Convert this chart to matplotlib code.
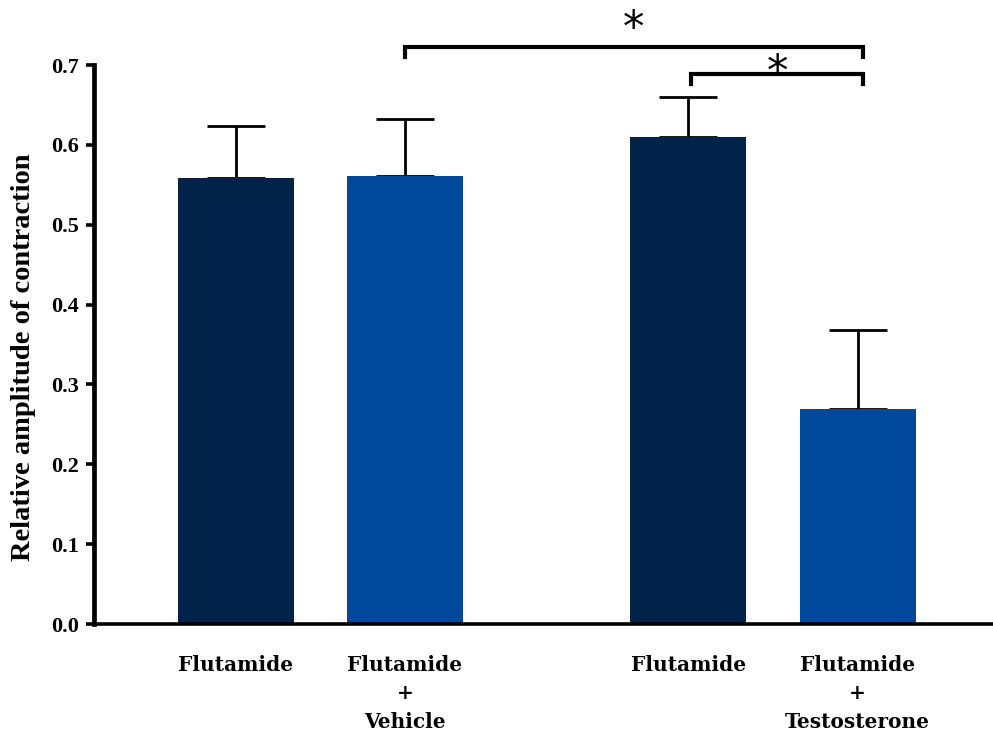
import numpy as np
import matplotlib
matplotlib.use("Agg")
import matplotlib.pyplot as plt

# group data: mean amplitude and upper SEM
labels = ["Flutamide", "Flutamide\n+\nVehicle", "Flutamide", "Flutamide\n+\nTestosterone"]
means = [0.558, 0.561, 0.610, 0.269]
errs = [0.066, 0.071, 0.050, 0.099]
colors = ["#012249", "#00489A", "#012249", "#00489A"]
xpos = [0.0, 1.0, 2.67, 3.67]

# significance brackets: (left x, right x, bracket height, star text y)
brackets = [(1.0, 3.70, 0.7225, 0.7183), (2.69, 3.70, 0.689, 0.6632)]

fig = plt.figure(figsize=(9.93, 7.35), dpi=100)
ax = fig.add_axes([0.0947, 0.151, 0.9053, 0.7605])

ax.bar(xpos, means, width=0.684, color=colors, zorder=2)
ax.errorbar(xpos, means, yerr=[np.zeros(len(errs)), errs], fmt="none",
            ecolor="black", elinewidth=2, capsize=21, capthick=2, zorder=1)

for x0, x1, h, ys in brackets:
    drop = 0.013
    ax.plot([x0, x0, x1, x1], [h - drop, h, h, h - drop], color="black",
            lw=3, clip_on=False, solid_joinstyle="miter")
    ax.text((x0 + x1) / 2, ys, "*", ha="center", va="bottom",
            fontsize=31, family="DejaVu Sans")

ax.set_xlim(-0.835, 4.469)
ax.set_ylim(0, 0.7)
ticks = np.arange(0, 0.71, 0.1)
ax.set_yticks(ticks)
ax.set_yticklabels([f"{v:.1f}" for v in ticks],
                   family="Liberation Serif", fontweight="bold", fontsize=16)
ax.set_xticks(xpos)
ax.set_xticklabels(labels, family="DejaVu Serif", fontweight="bold",
                   fontsize=14.5, linespacing=1.55)
ax.tick_params(axis="x", length=0, pad=22)
ax.tick_params(axis="y", length=6, width=2.6, direction="out", pad=5)

ax.set_ylabel("Relative amplitude of contraction", family="Liberation Serif",
              fontweight="bold", fontsize=20.5)
ax.yaxis.set_label_coords(-0.0645, 0.4776)

for side in ["top", "right"]:
    ax.spines[side].set_visible(False)
ax.spines["left"].set_linewidth(3.4)
ax.spines["bottom"].set_linewidth(2.6)

fig.savefig("out.png", dpi=100)
